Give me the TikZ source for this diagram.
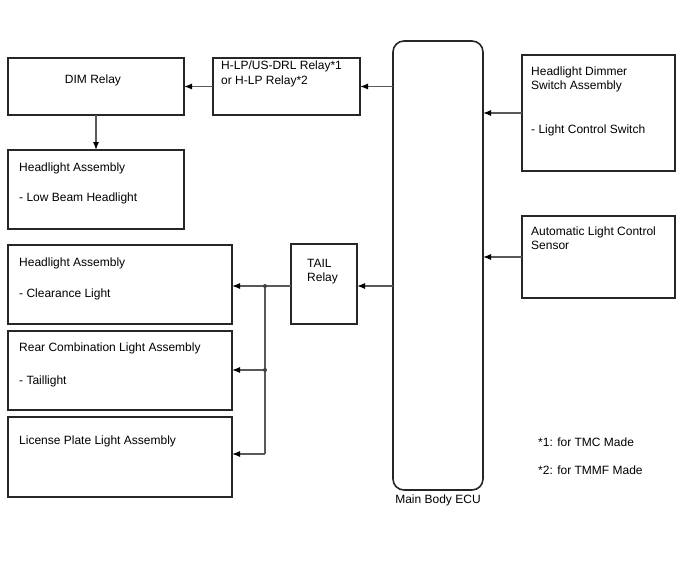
\documentclass[tikz,border=0pt]{standalone}
\usepackage{fontspec}
\setmainfont{Liberation Sans}
\usetikzlibrary{arrows.meta}
\begin{document}
\begin{tikzpicture}[x=1pt,y=-1pt,
  box/.style={draw=black!85, line width=1.6pt, inner sep=0pt, outer sep=0pt, anchor=north west},
  conn/.style={draw=black!65, line width=1.2pt, -{Latex[length=8pt,width=6pt,color=black]}},
  wire/.style={draw=black!65, line width=1.2pt},
  txt/.style={inner sep=0pt, anchor=base west, font=\fontsize{12}{14}\selectfont},
  ctxt/.style={inner sep=0pt, anchor=base, font=\fontsize{12}{14}\selectfont},
  dot/.style={circle, fill=black!75, inner sep=0pt, minimum size=4pt}]
\useasboundingbox (0,0) rectangle (688,560);
% boxes
\node[box, minimum width=176pt, minimum height=57pt] (dim) at (8,58) {};
\node[box, minimum width=147pt, minimum height=57pt] (hlp) at (213,58) {};
\node[box, minimum width=176pt, minimum height=79pt] (low) at (8,150) {};
\node[box, rounded corners=11pt, minimum width=90pt, minimum height=449pt] (ecu) at (393,41) {};
\node[box, minimum width=153pt, minimum height=116pt] (sw) at (522,55) {};
\node[box, minimum width=153pt, minimum height=82pt] (auto) at (522,216) {};
\node[box, minimum width=66pt, minimum height=80pt] (tail) at (291,244) {};
\node[box, minimum width=224pt, minimum height=79pt] (clr) at (8,245) {};
\node[box, minimum width=224pt, minimum height=79pt] (rear) at (8,331) {};
\node[box, minimum width=224pt, minimum height=80pt] (lic) at (8,417) {};
% texts
\node[ctxt] (t1) at (93,83) {DIM Relay};
\node[txt] (t2) at (221,69) {H-LP/US-DRL Relay*1};
\node[txt] (t3) at (221,84) {or H-LP Relay*2};
\node[txt] (t4) at (19,171) {Headlight Assembly};
\node[txt] (t5) at (19,201) {- Low Beam Headlight};
\node[txt] (t6) at (531,75) {Headlight Dimmer};
\node[txt] (t7) at (531,89) {Switch Assembly};
\node[txt] (t8) at (531,133) {- Light Control Switch};
\node[txt] (t9) at (531,235) {Automatic Light Control};
\node[txt] (t10) at (531,249) {Sensor};
\node[txt] (t11) at (19,266) {Headlight Assembly};
\node[txt] (t12) at (19,297) {- Clearance Light};
\node[txt] (t13) at (307,267) {TAIL};
\node[txt] (t14) at (307,281) {Relay};
\node[txt] (t15) at (19,351) {Rear Combination Light Assembly};
\node[txt] (t16) at (19,384) {- Taillight};
\node[txt] (t17) at (19,444) {License Plate Light Assembly};
\node[txt] (t18) at (538,446) {*1: for TMC Made};
\node[txt] (t19) at (538,474) {*2: for TMMF Made};
\node[ctxt] (t20) at (438,503) {Main Body ECU};
% junctions
\coordinate (j1) at (265,286);
\coordinate (j2) at (265,370);
\coordinate (j3) at (265,454);
% connectors
\draw[conn] (ecu.west |- hlp.east) -- (hlp.east);
\draw[conn] (hlp.west) -- (dim.east |- hlp.west);
\draw[conn] (dim.south) -- (low.north -| dim.south);
\draw[conn] (sw.west) -- (ecu.east |- sw.west);
\draw[conn] (auto.west) -- (ecu.east |- auto.west);
\draw[conn] (ecu.west |- j1) -- (tail.east |- j1);
\draw[conn] (tail.west |- j1) -- (clr.east |- j1);
\draw[wire] (j1) -- (j3);
\draw[conn] (j2) -- (rear.east |- j2);
\draw[conn] (j3) -- (lic.east |- j3);
\node[dot] (d1) at (j1) {};
\node[dot] (d2) at (j2) {};
\end{tikzpicture}
\end{document}
